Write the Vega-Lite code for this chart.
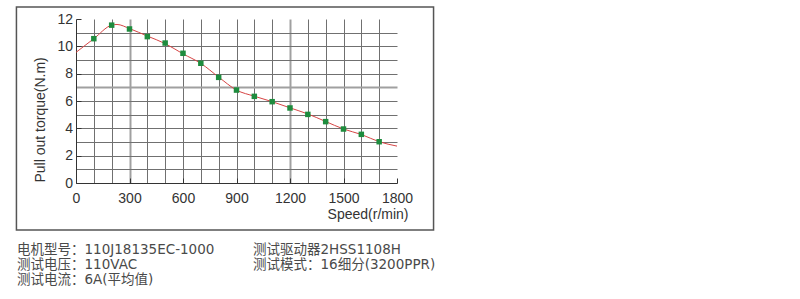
{
  "$schema": "https://vega.github.io/schema/vega-lite/v6.json",
  "padding": {"left": 15, "top": 6, "right": 0, "bottom": 0},
  "background": "white",
  "config": {
    "view": {"stroke": null},
    "font": "Liberation Sans, Noto Sans CJK SC"
  },
  "datasets": {
    "points": [
      {"speed": 100, "torque": 10.56},
      {"speed": 200, "torque": 11.55},
      {"speed": 300, "torque": 11.27},
      {"speed": 400, "torque": 10.71},
      {"speed": 500, "torque": 10.24},
      {"speed": 600, "torque": 9.49},
      {"speed": 700, "torque": 8.76},
      {"speed": 800, "torque": 7.73},
      {"speed": 900, "torque": 6.8},
      {"speed": 1000, "torque": 6.34},
      {"speed": 1100, "torque": 5.95},
      {"speed": 1200, "torque": 5.49},
      {"speed": 1300, "torque": 5.02},
      {"speed": 1400, "torque": 4.49},
      {"speed": 1500, "torque": 3.95},
      {"speed": 1600, "torque": 3.56},
      {"speed": 1700, "torque": 3.02}
    ],
    "curve": [
      {"speed": 0, "torque": 9.56},
      {"speed": 100, "torque": 10.56},
      {"speed": 200, "torque": 11.55},
      {"speed": 230, "torque": 11.6},
      {"speed": 300, "torque": 11.3},
      {"speed": 400, "torque": 10.75},
      {"speed": 500, "torque": 10.2},
      {"speed": 600, "torque": 9.45},
      {"speed": 700, "torque": 8.75},
      {"speed": 800, "torque": 7.75},
      {"speed": 900, "torque": 6.8},
      {"speed": 1000, "torque": 6.35},
      {"speed": 1100, "torque": 5.95},
      {"speed": 1200, "torque": 5.5},
      {"speed": 1300, "torque": 5.05},
      {"speed": 1400, "torque": 4.5},
      {"speed": 1500, "torque": 3.95},
      {"speed": 1600, "torque": 3.55},
      {"speed": 1700, "torque": 3.02},
      {"speed": 1800, "torque": 2.7}
    ],
    "notes": [
      {"col": "left", "line": 1, "text": "电机型号：110J18135EC-1000"},
      {"col": "right", "line": 1, "text": "测试驱动器2HSS1108H"},
      {"col": "left", "line": 2, "text": "测试电压：110VAC"},
      {"col": "right", "line": 2, "text": "测试模式：16细分(3200PPR)"},
      {"col": "left", "line": 3, "text": "测试电流：6A(平均值)"}
    ]
  },
  "vconcat": [
    {
      "width": 321,
      "height": 164,
      "layer": [
        {
          "data": {"name": "curve"},
          "mark": {"type": "line", "color": "#d64545", "strokeWidth": 1, "interpolate": "monotone"},
          "encoding": {
            "x": {
              "field": "speed", "type": "quantitative",
              "scale": {"domain": [0, 1800], "nice": false, "zero": false},
              "axis": {
                "values": [0, 100, 200, 300, 400, 500, 600, 700, 800, 900, 1000, 1100, 1200, 1300, 1400, 1500, 1600, 1700, 1800],
                "format": "d",
                "labelExpr": "datum.value % 300 == 0 ? datum.label : ''",
                "labelOverlap": false,
                "labelFlush": false,
                "grid": true,
                "gridColor": {"condition": {"test": "datum.value == 300 || datum.value == 1200", "value": "#a0a0a0"}, "value": "#707070"},
                "gridWidth": {"condition": {"test": "datum.value == 300 || datum.value == 1200", "value": 2}, "value": 1},
                "gridOpacity": {"condition": {"test": "datum.value == 0 || datum.value == 1800", "value": 0}, "value": 1},
                "ticks": true,
                "tickSize": -5,
                "tickColor": "#333",
                "tickOpacity": {"condition": {"test": "datum.value % 300 == 0", "value": 1}, "value": 0},
                "domainColor": "#333",
                "labelPadding": 13,
                "labelFontSize": 14,
                "labelColor": "#333",
                "title": "Speed(r/min)",
                "titleX": 332,
                "titleY": 35,
                "titleAlign": "right",
                "titleBaseline": "alphabetic",
                "titleFontSize": 14,
                "titleFontWeight": "normal",
                "titleColor": "#333"
              }
            },
            "y": {
              "field": "torque", "type": "quantitative",
              "scale": {"domain": [0, 12], "nice": false, "zero": false},
              "axis": {
                "values": [0, 1, 2, 3, 4, 5, 6, 7, 8, 9, 10, 11, 12],
                "format": "d",
                "labelExpr": "datum.value % 2 == 0 ? datum.label : ''",
                "labelOverlap": false,
                "labelFlush": false,
                "grid": true,
                "gridColor": {"condition": {"test": "datum.value == 7", "value": "#a0a0a0"}, "value": "#707070"},
                "gridWidth": {"condition": {"test": "datum.value == 7", "value": 2}, "value": 1},
                "gridOpacity": {"condition": {"test": "datum.value == 0 || datum.value == 12", "value": 0}, "value": 1},
                "ticks": true,
                "tickSize": -5,
                "tickColor": "#333",
                "tickOpacity": {"condition": {"test": "datum.value % 2 == 0", "value": 1}, "value": 0},
                "domainColor": "#333",
                "labelPadding": 8.5,
                "labelFontSize": 14,
                "labelColor": "#333",
                "title": "Pull out torque(N.m)",
                "titleX": -32,
                "titleY": 163,
                "titleAngle": 270,
                "titleAlign": "left",
                "titleBaseline": "alphabetic",
                "titleFontSize": 14,
                "titleFontWeight": "normal",
                "titleColor": "#333"
              }
            }
          }
        },
        {
          "data": {"name": "points"},
          "mark": {"type": "point", "shape": "square", "filled": true, "size": 30, "color": "#1e8c3e", "opacity": 1},
          "encoding": {
            "x": {
              "field": "speed", "type": "quantitative",
              "scale": {"domain": [0, 1800], "nice": false, "zero": false},
              "axis": {
                "values": [0, 100, 200, 300, 400, 500, 600, 700, 800, 900, 1000, 1100, 1200, 1300, 1400, 1500, 1600, 1700, 1800],
                "format": "d",
                "labelExpr": "datum.value % 300 == 0 ? datum.label : ''",
                "labelOverlap": false,
                "labelFlush": false,
                "grid": true,
                "gridColor": {"condition": {"test": "datum.value == 300 || datum.value == 1200", "value": "#a0a0a0"}, "value": "#707070"},
                "gridWidth": {"condition": {"test": "datum.value == 300 || datum.value == 1200", "value": 2}, "value": 1},
                "gridOpacity": {"condition": {"test": "datum.value == 0 || datum.value == 1800", "value": 0}, "value": 1},
                "ticks": true,
                "tickSize": -5,
                "tickColor": "#333",
                "tickOpacity": {"condition": {"test": "datum.value % 300 == 0", "value": 1}, "value": 0},
                "domainColor": "#333",
                "labelPadding": 13,
                "labelFontSize": 14,
                "labelColor": "#333",
                "title": "Speed(r/min)",
                "titleX": 332,
                "titleY": 35,
                "titleAlign": "right",
                "titleBaseline": "alphabetic",
                "titleFontSize": 14,
                "titleFontWeight": "normal",
                "titleColor": "#333"
              }
            },
            "y": {
              "field": "torque", "type": "quantitative",
              "scale": {"domain": [0, 12], "nice": false, "zero": false},
              "axis": {
                "values": [0, 1, 2, 3, 4, 5, 6, 7, 8, 9, 10, 11, 12],
                "format": "d",
                "labelExpr": "datum.value % 2 == 0 ? datum.label : ''",
                "labelOverlap": false,
                "labelFlush": false,
                "grid": true,
                "gridColor": {"condition": {"test": "datum.value == 7", "value": "#a0a0a0"}, "value": "#707070"},
                "gridWidth": {"condition": {"test": "datum.value == 7", "value": 2}, "value": 1},
                "gridOpacity": {"condition": {"test": "datum.value == 0 || datum.value == 12", "value": 0}, "value": 1},
                "ticks": true,
                "tickSize": -5,
                "tickColor": "#333",
                "tickOpacity": {"condition": {"test": "datum.value % 2 == 0", "value": 1}, "value": 0},
                "domainColor": "#333",
                "labelPadding": 8.5,
                "labelFontSize": 14,
                "labelColor": "#333",
                "title": "Pull out torque(N.m)",
                "titleX": -32,
                "titleY": 163,
                "titleAngle": 270,
                "titleAlign": "left",
                "titleBaseline": "alphabetic",
                "titleFontSize": 14,
                "titleFontWeight": "normal",
                "titleColor": "#333"
              }
            }
          }
        },
        {
          "data": {"values": [{}]},
          "mark": {"type": "rect", "fillOpacity": 0, "stroke": "#555555", "strokeWidth": 1.5},
          "encoding": {
            "x": {
              "datum": -334, "type": "quantitative",
              "scale": {"domain": [0, 1800], "nice": false, "zero": false},
              "axis": {
                "values": [0, 100, 200, 300, 400, 500, 600, 700, 800, 900, 1000, 1100, 1200, 1300, 1400, 1500, 1600, 1700, 1800],
                "format": "d",
                "labelExpr": "datum.value % 300 == 0 ? datum.label : ''",
                "labelOverlap": false,
                "labelFlush": false,
                "grid": true,
                "gridColor": {"condition": {"test": "datum.value == 300 || datum.value == 1200", "value": "#a0a0a0"}, "value": "#707070"},
                "gridWidth": {"condition": {"test": "datum.value == 300 || datum.value == 1200", "value": 2}, "value": 1},
                "gridOpacity": {"condition": {"test": "datum.value == 0 || datum.value == 1800", "value": 0}, "value": 1},
                "ticks": true,
                "tickSize": -5,
                "tickColor": "#333",
                "tickOpacity": {"condition": {"test": "datum.value % 300 == 0", "value": 1}, "value": 0},
                "domainColor": "#333",
                "labelPadding": 13,
                "labelFontSize": 14,
                "labelColor": "#333",
                "title": "Speed(r/min)",
                "titleX": 332,
                "titleY": 35,
                "titleAlign": "right",
                "titleBaseline": "alphabetic",
                "titleFontSize": 14,
                "titleFontWeight": "normal",
                "titleColor": "#333"
              }
            },
            "x2": {"datum": 2005},
            "y": {
              "datum": 12.88, "type": "quantitative",
              "scale": {"domain": [0, 12], "nice": false, "zero": false},
              "axis": {
                "values": [0, 1, 2, 3, 4, 5, 6, 7, 8, 9, 10, 11, 12],
                "format": "d",
                "labelExpr": "datum.value % 2 == 0 ? datum.label : ''",
                "labelOverlap": false,
                "labelFlush": false,
                "grid": true,
                "gridColor": {"condition": {"test": "datum.value == 7", "value": "#a0a0a0"}, "value": "#707070"},
                "gridWidth": {"condition": {"test": "datum.value == 7", "value": 2}, "value": 1},
                "gridOpacity": {"condition": {"test": "datum.value == 0 || datum.value == 12", "value": 0}, "value": 1},
                "ticks": true,
                "tickSize": -5,
                "tickColor": "#333",
                "tickOpacity": {"condition": {"test": "datum.value % 2 == 0", "value": 1}, "value": 0},
                "domainColor": "#333",
                "labelPadding": 8.5,
                "labelFontSize": 14,
                "labelColor": "#333",
                "title": "Pull out torque(N.m)",
                "titleX": -32,
                "titleY": 163,
                "titleAngle": 270,
                "titleAlign": "left",
                "titleBaseline": "alphabetic",
                "titleFontSize": 14,
                "titleFontWeight": "normal",
                "titleColor": "#333"
              }
            },
            "y2": {"datum": -3.44}
          }
        }
      ]
    },
    {
      "width": 321,
      "height": 30,
      "data": {"name": "notes"},
      "mark": {"type": "text", "align": "left", "baseline": "middle", "fontSize": 13.5, "font": "DejaVu Sans, Noto Sans CJK SC", "color": "#4a4a4a"},
      "encoding": {
        "x": {"field": "col", "type": "nominal", "scale": {"type": "point", "domain": ["left", "right"], "range": [-59, 177], "padding": 0}, "axis": null},
        "y": {"field": "line", "type": "ordinal", "scale": {"type": "point", "domain": [1, 2, 3], "range": [0, 30], "padding": 0}, "axis": null},
        "text": {"field": "text"}
      }
    }
  ],
  "spacing": 12
}
